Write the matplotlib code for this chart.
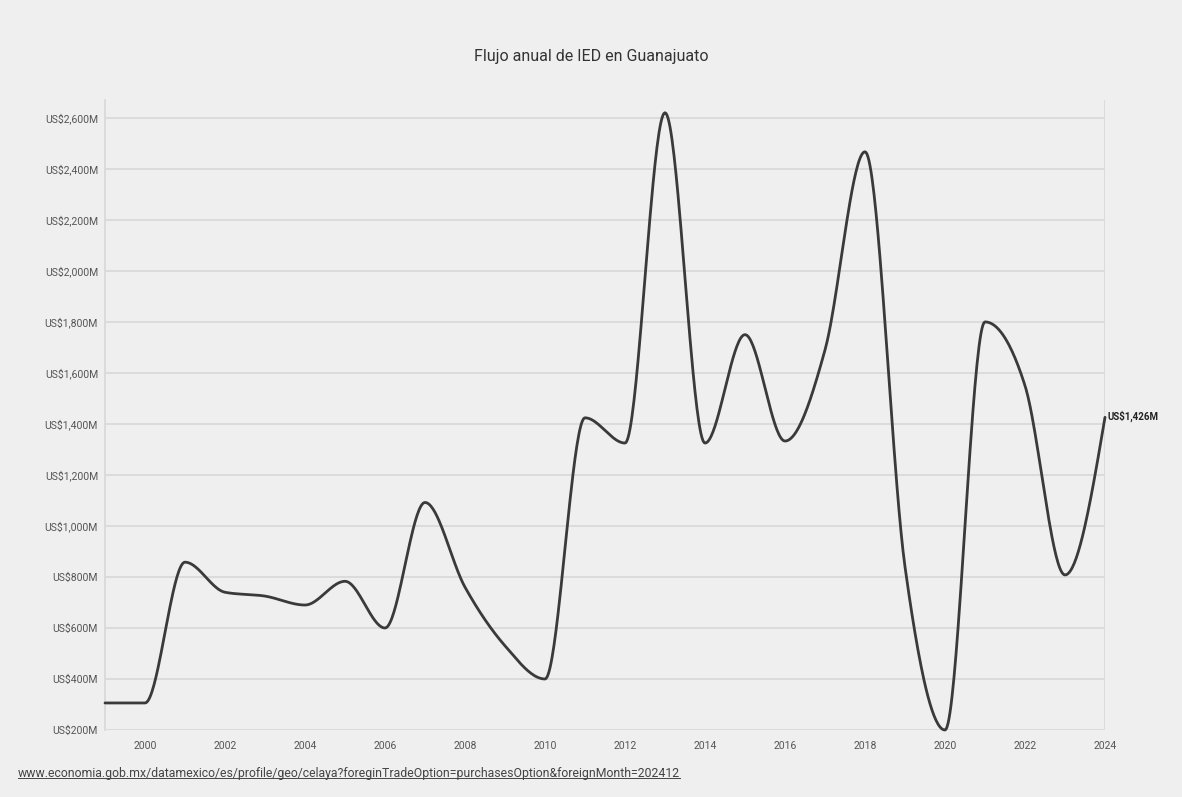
import numpy as np
import matplotlib
matplotlib.use("Agg")
import matplotlib.pyplot as plt
from matplotlib.lines import Line2D

# Flujo anual de IED, millones de dólares
years = np.arange(1999, 2025)
ied = np.array([306, 306, 858, 740, 725, 690, 783, 600, 1092, 760, 530, 400,
                1424, 1325, 2620, 1325, 1750, 1333, 1690, 2467, 840, 200,
                1800, 1550, 808, 1426], dtype=float)

y_ticks = np.arange(200, 2601, 200)
x_ticks = np.arange(2000, 2025, 2)
title = "Flujo anual de IED en Guanajuato"
source = ("www.economia.gob.mx/datamexico/es/profile/geo/celaya?"
          "foreginTradeOption=purchasesOption&foreignMonth=202412")


def monotone_curve(x, y, n=40):
    # monotone cubic (Steffen) like d3.curveMonotoneX
    x = np.asarray(x, float)
    y = np.asarray(y, float)
    h = np.diff(x)
    s = np.diff(y) / h
    t = np.zeros_like(y)
    for i in range(1, len(y) - 1):
        p = (s[i - 1] * h[i] + s[i] * h[i - 1]) / (h[i - 1] + h[i])
        t[i] = (np.sign(s[i - 1]) + np.sign(s[i])) * min(abs(s[i - 1]), abs(s[i]), 0.5 * abs(p))
    t[0] = (3 * s[0] - t[1]) / 2
    t[-1] = (3 * s[-1] - t[-2]) / 2
    xs, ys = [], []
    for i in range(len(h)):
        u = np.linspace(0, 1, n, endpoint=(i == len(h) - 1))
        h00 = 2 * u**3 - 3 * u**2 + 1
        h10 = u**3 - 2 * u**2 + u
        h01 = -2 * u**3 + 3 * u**2
        h11 = u**3 - u**2
        xs.append(x[i] + u * h[i])
        ys.append(h00 * y[i] + h10 * h[i] * t[i] + h01 * y[i + 1] + h11 * h[i] * t[i + 1])
    return np.concatenate(xs), np.concatenate(ys)


bg = "#efefef"
plt.rcParams["font.family"] = ["Roboto", "DejaVu Sans"]

fig = plt.figure(figsize=(11.82, 7.97), dpi=100, facecolor=bg)
ax = fig.add_axes([105 / 1182, 1 - 730 / 797, 1000 / 1182, 630 / 797], facecolor=bg)

ax.set_xlim(1999, 2024)
ax.set_ylim(200, 2670)

for v in y_ticks:
    ax.axhline(v, color="#d9d9d9", lw=1.3, zorder=1)
ax.axvline(2024, color="#d9d9d9", lw=1.3, zorder=1)

cx, cy = monotone_curve(years, ied)
ax.plot(cx, cy, color="#3a3a3a", lw=2.0, zorder=3, clip_on=False,
        solid_capstyle="round")

ax.set_yticks(y_ticks)
ax.set_yticklabels([f"US${v:,}M" for v in y_ticks])
ax.set_xticks(x_ticks)
ax.set_xticklabels([str(v) for v in x_ticks])
ax.tick_params(axis="both", length=0, labelsize=7.5, colors="#555555")
ax.tick_params(axis="y", pad=5)
ax.tick_params(axis="x", pad=8)

for side in ["top", "right", "bottom"]:
    ax.spines[side].set_visible(False)
ax.spines["left"].set_color("#d9d9d9")
ax.spines["left"].set_linewidth(1.3)

ax.annotate(f"US${ied[-1]:,.0f}M", xy=(years[-1], ied[-1]), xytext=(2, 1),
            textcoords="offset points", fontsize=7, fontweight="bold",
            color="#222222", va="center", ha="left", annotation_clip=False)

fig.text(0.5, 1 - 57 / 797, title, ha="center", va="center",
         fontsize=11.5, color="#333333")

src = fig.text(18 / 1182, 1 - 773 / 797, source, ha="left", va="center",
               fontsize=8.8, color="#444444")
fig.canvas.draw()
bb = src.get_window_extent().transformed(fig.transFigure.inverted())
fig.add_artist(Line2D([bb.x0, bb.x1], [bb.y0 + 0.002, bb.y0 + 0.002],
                      transform=fig.transFigure, color="#444444", lw=0.7))

fig.savefig("out.png", dpi=100, facecolor=bg)
